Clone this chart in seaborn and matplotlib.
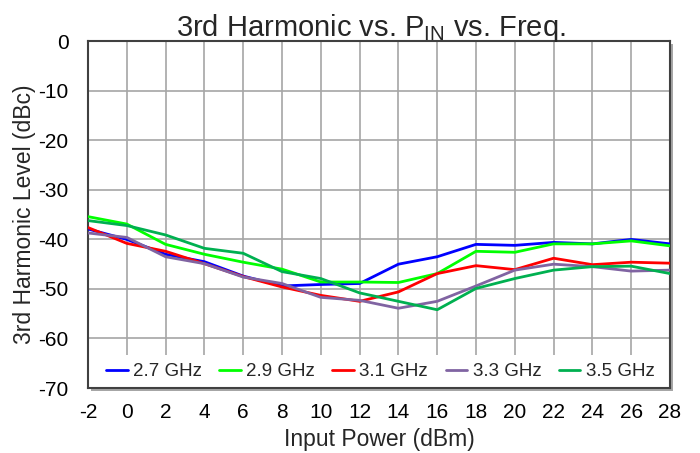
import matplotlib
matplotlib.use("Agg")
import matplotlib.pyplot as plt
from matplotlib.patches import Rectangle
import seaborn as sns
import pandas as pd

# Input power sweep (dBm)
pin_dbm = [-2, 0, 2, 4, 6, 8, 10, 12, 14, 16, 18, 20, 22, 24, 26, 28]

# 3rd harmonic level (dBc) per frequency
h3_2p7 = [-37.9, -40.0, -43.0, -44.5, -47.4, -49.4, -49.1, -48.9, -45.0, -43.5, -41.0, -41.2, -40.6, -40.9, -40.0, -40.9]
h3_2p9 = [-35.4, -36.9, -41.0, -43.0, -44.6, -46.0, -48.6, -48.6, -48.7, -46.9, -42.4, -42.6, -40.9, -40.9, -40.3, -41.3]
h3_3p1 = [-37.6, -40.8, -42.4, -44.9, -47.5, -49.6, -51.3, -52.5, -50.6, -46.9, -45.3, -46.1, -43.8, -45.1, -44.6, -44.8]
h3_3p3 = [-38.7, -39.6, -43.5, -44.9, -47.6, -48.9, -51.7, -52.3, -53.9, -52.5, -49.4, -46.2, -45.0, -45.5, -46.4, -46.2]
h3_3p5 = [-36.2, -37.2, -39.1, -41.8, -42.8, -46.5, -47.9, -50.8, -52.5, -54.2, -49.9, -47.9, -46.2, -45.5, -45.4, -46.9]

freq_labels = ["2.7 GHz", "2.9 GHz", "3.1 GHz", "3.3 GHz", "3.5 GHz"]
series = [h3_2p7, h3_2p9, h3_3p1, h3_3p3, h3_3p5]
colors = ["#0000FF", "#00FF00", "#FF0000", "#8064A2", "#00B050"]

x_ticks = list(range(-2, 29, 2))
y_ticks = list(range(-70, 1, 10))

rows = []
for lab, vals in zip(freq_labels, series):
    for p, v in zip(pin_dbm, vals):
        rows.append({"Pin": p, "H3": v, "Freq": lab})
df = pd.DataFrame(rows)

sns.set_theme(style="white")
plt.rcParams["font.family"] = ["Liberation Sans", "DejaVu Sans"]
plt.rcParams["axes.unicode_minus"] = False

W, H = 700, 453
fig = plt.figure(figsize=(W / 100, H / 100), dpi=100)
# plot area in pixels: left 88, right 670, top 41, bottom 388
px0, px1, py0, py1 = 88, 670, 41.3, 388
ax = fig.add_axes([px0 / W, 1 - py1 / H, (px1 - px0) / W, (py1 - py0) / H])

# drop shadow behind the plot area
off = 3
fig.add_artist(Rectangle(((px0 + off) / W, 1 - (py1 + off) / H),
                         (px1 - px0) / W, (py1 - py0) / H,
                         transform=fig.transFigure, facecolor="#A6A6A6",
                         edgecolor="none", zorder=-1))

sns.lineplot(data=df, x="Pin", y="H3", hue="Freq", hue_order=freq_labels,
             palette=dict(zip(freq_labels, colors)), linewidth=2.0,
             ax=ax, legend=True, zorder=3)

ax.set_xlim(-2, 28)
ax.set_ylim(-70, 0)
ax.set_xticks(x_ticks)
ax.set_yticks(y_ticks)
ax.grid(True, color="#A6A6A6", linewidth=1.2, zorder=0)
ax.set_axisbelow(True)
for side in ["left", "top", "right", "bottom"]:
    ax.spines[side].set_color("#404040")
    ax.spines[side].set_linewidth(1.5)
ax.tick_params(axis="x", length=0, pad=11, labelsize=15, colors="black")
ax.tick_params(axis="y", length=0, pad=14, labelsize=15, colors="black")

ax.set_title("3rd Harmonic vs. P$_{\\mathregular{IN}}$ vs. Freq.", fontsize=21,
             pad=4, x=0.486)
ax.set_xlabel("Input Power (dBm)", fontsize=16.5, labelpad=4)
ax.set_ylabel("3rd Harmonic Level (dBc)", fontsize=16.5, labelpad=1.5)

# white legend band along the bottom of the plot area
band_h = (388 - 355) / (py1 - py0)
ax.add_patch(Rectangle((0, 0), 1, band_h, transform=ax.transAxes,
                       facecolor="white", edgecolor="none", zorder=1))

handles, labels = ax.get_legend_handles_labels()
leg = ax.legend(handles, labels, ncol=5, loc="center",
                bbox_to_anchor=(0.031, 0.0, 0.942, band_h), mode="expand",
                borderaxespad=0, borderpad=0, fontsize=13.5, frameon=False,
                handlelength=1.17, handletextpad=0.27, columnspacing=1.0)
for ln in leg.get_lines():
    ln.set_linewidth(2.0)

fig.savefig("out.png", dpi=100)
